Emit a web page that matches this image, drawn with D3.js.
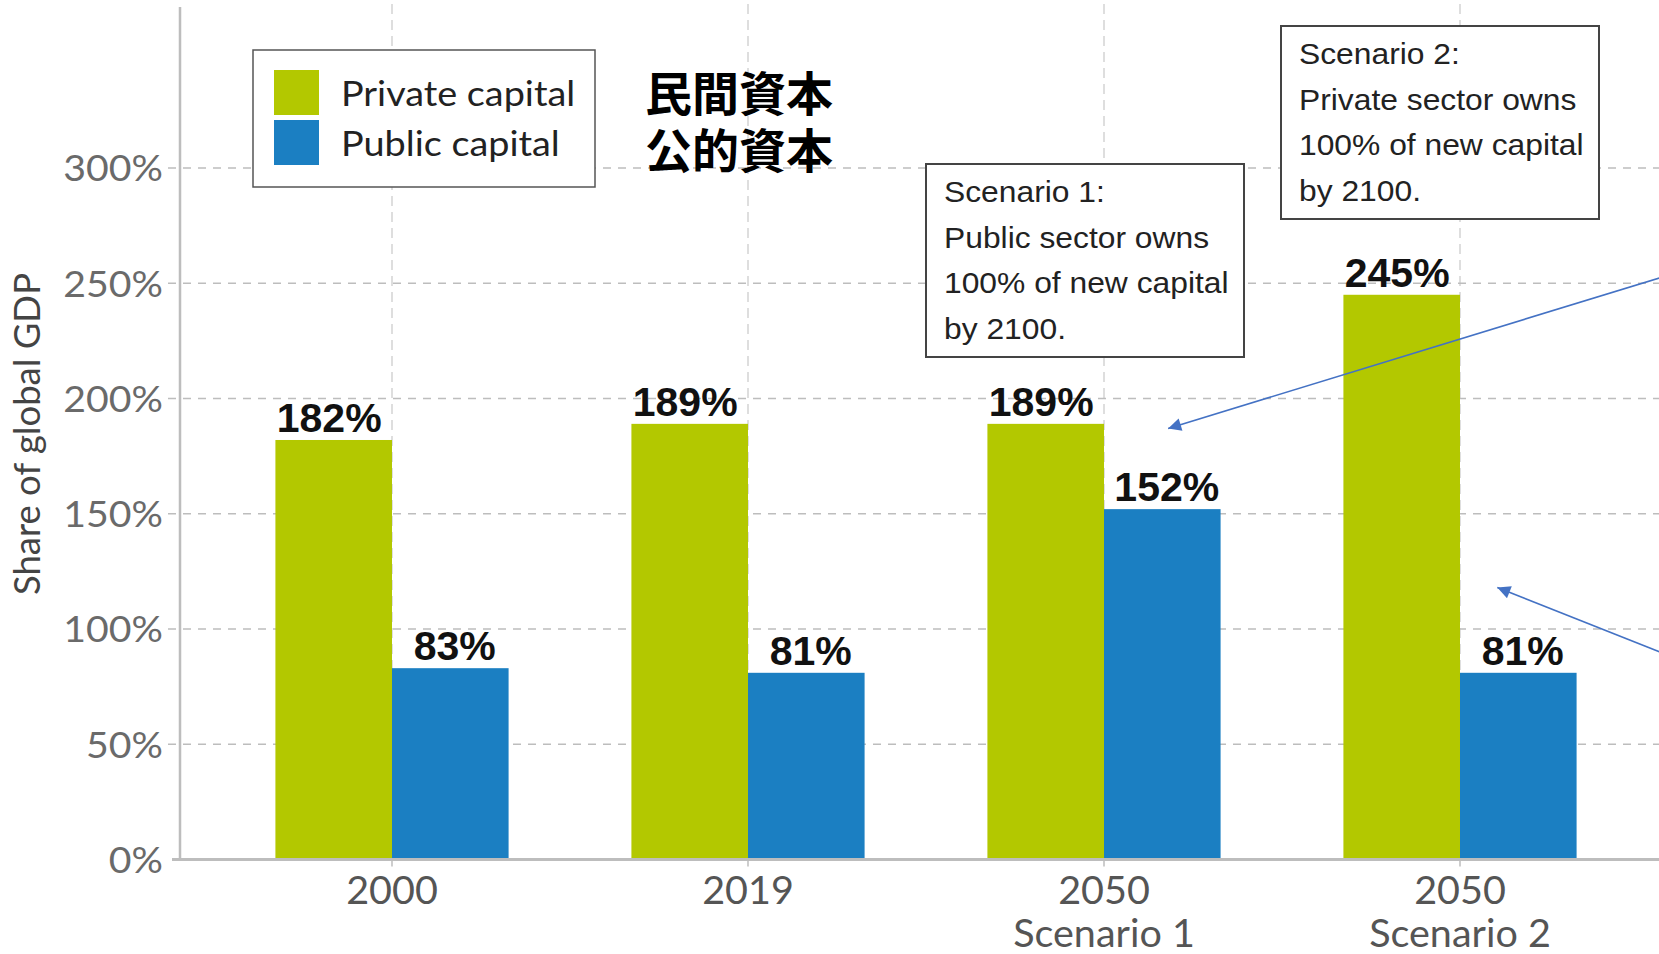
<!DOCTYPE html>
<html>
<head>
<meta charset="utf-8">
<script src="https://cdn.jsdelivr.net/npm/d3@7"></script>
<style>
  html, body { margin: 0; padding: 0; background: #fff; }
  svg { display: block; }
</style>
</head>
<body>
<svg id="chart" width="1659" height="954"></svg>
<script>
// Capital ownership as a share of global GDP
const categories = ["2000", "2019", "2050 Scenario 1", "2050 Scenario 2"];
const seriesNames = ["Private capital", "Public capital"];
const privateCapital = [182, 189, 189, 245];
const publicCapital = [83, 81, 152, 81];
const yTicks = [0, 50, 100, 150, 200, 250, 300];
const seriesColors = ["#b3c800", "#1b7fc2"];
const cjkLabels = ["民間資本", "公的資本"];
const scenario1Note = ["Scenario 1:", "Public sector owns", "100% of new capital", "by 2100."];
const scenario2Note = ["Scenario 2:", "Private sector owns", "100% of new capital", "by 2100."];

const svg = d3.select("#chart");
const W = 1659, H = 954;
const axisX = 180, baseY = 859.5, topY = 168;
const LATO = "Lato, 'Open Sans', sans-serif";
const ARIAL = "'Liberation Sans', Arial, sans-serif";

const x = d3.scaleBand()
  .domain(categories)
  .range([axisX, 1672])
  .paddingInner(0.345)
  .paddingOuter(0.268);

const xSub = d3.scaleBand()
  .domain(seriesNames)
  .range([0, x.bandwidth()])
  .padding(0);

const y = d3.scaleLinear().domain([0, 300]).range([baseY, topY]);

const rows = categories.map((c, i) => ({ cat: c, values: [privateCapital[i], publicCapital[i]] }));

// vertical dashed guides at each category centre
svg.append("g").selectAll("line")
  .data(categories)
  .join("line")
  .attr("x1", d => x(d) + x.bandwidth() / 2)
  .attr("x2", d => x(d) + x.bandwidth() / 2)
  .attr("y1", 4)
  .attr("y2", baseY)
  .attr("stroke", "#c9c9c9")
  .attr("stroke-width", 1.2)
  .attr("stroke-dasharray", "10,6");

// horizontal dashed gridlines
svg.append("g").selectAll("line")
  .data(yTicks.filter(t => t > 0))
  .join("line")
  .attr("x1", 168)
  .attr("x2", W)
  .attr("y1", d => y(d))
  .attr("y2", d => y(d))
  .attr("stroke", "#bdbdbd")
  .attr("stroke-width", 1.6)
  .attr("stroke-dasharray", "8,7");

// y axis tick labels (slightly widened lettering)
const yAxis = d3.axisLeft(y).tickValues(yTicks).tickFormat(d => d + "%").tickSize(0).tickPadding(0);
const gy = svg.append("g").attr("transform", `translate(${axisX},0)`).call(yAxis);
gy.select(".domain").remove();
gy.selectAll(".tick text")
  .attr("x", 0)
  .attr("transform", "translate(-17,0) scale(1.06,1)")
  .attr("font-family", LATO)
  .attr("font-size", 37)
  .attr("fill", "#6a6a6a")
  .attr("dy", "0.35em");

svg.append("line")
  .attr("x1", axisX).attr("x2", axisX)
  .attr("y1", 7).attr("y2", baseY)
  .attr("stroke", "#bdbdbd").attr("stroke-width", 2.5);

// y axis title
svg.append("text")
  .attr("transform", `translate(40,434) rotate(-90)`)
  .attr("text-anchor", "middle")
  .attr("font-family", LATO)
  .attr("font-size", 36.5)
  .attr("fill", "#444")
  .text("Share of global GDP");

// bars
const groups = svg.append("g").selectAll("g")
  .data(rows)
  .join("g")
  .attr("transform", d => `translate(${x(d.cat)},0)`);

groups.selectAll("rect")
  .data(d => d.values.map((v, j) => ({ key: seriesNames[j], v, j })))
  .join("rect")
  .attr("x", d => xSub(d.key))
  .attr("width", xSub.bandwidth())
  .attr("y", d => y(d.v))
  .attr("height", d => y(0) - y(d.v))
  .attr("fill", d => seriesColors[d.j]);

// value labels, nudged outward from the pair's centre
groups.selectAll("text.val")
  .data(d => d.values.map((v, j) => ({ key: seriesNames[j], v, j })))
  .join("text")
  .attr("class", "val")
  .attr("x", d => xSub(d.key) + xSub.bandwidth() / 2 + (d.j === 0 ? -4.5 : 4.5))
  .attr("y", d => y(d.v) - 8)
  .attr("text-anchor", "middle")
  .attr("font-family", ARIAL)
  .attr("font-weight", "bold")
  .attr("font-size", 41)
  .attr("fill", "#111")
  .text(d => d.v + "%");

// x axis baseline and ticks
svg.append("line")
  .attr("x1", 172).attr("x2", W)
  .attr("y1", baseY).attr("y2", baseY)
  .attr("stroke", "#bdbdbd").attr("stroke-width", 3);

const xAxis = d3.axisBottom(x).tickSize(6).tickFormat("");
const gx = svg.append("g").attr("transform", `translate(0,${baseY + 1})`).call(xAxis);
gx.select(".domain").remove();
gx.selectAll(".tick line").attr("stroke", "#bdbdbd").attr("stroke-width", 1.5);

gx.selectAll(".tick").each(function (d) {
  const parts = [d.slice(0, 4), d.slice(5)].filter(s => s.length);
  const t = d3.select(this).append("text")
    .attr("text-anchor", "middle")
    .attr("font-family", LATO)
    .attr("font-size", 38)
    .attr("transform", "scale(1.04,1)")
    .attr("fill", "#555");
  parts.forEach((p, i) => {
    t.append("tspan").attr("x", 0).attr("y", 43.5 + i * 43).text(p);
  });
});

// legend
const legend = svg.append("g");
legend.append("rect")
  .attr("x", 253).attr("y", 50).attr("width", 342).attr("height", 137)
  .attr("fill", "#fff").attr("stroke", "#555").attr("stroke-width", 1.5);
seriesNames.forEach((name, i) => {
  legend.append("rect")
    .attr("x", 274).attr("y", 70 + i * 50)
    .attr("width", 45).attr("height", 45)
    .attr("fill", seriesColors[i]);
  legend.append("text")
    .attr("transform", `translate(341,${106 + i * 50}) scale(1.08,1)`)
    .attr("font-family", LATO)
    .attr("font-size", 35)
    .attr("fill", "#222")
    .text(name);
});

// Japanese series names
svg.append("g").selectAll("text")
  .data(cjkLabels)
  .join("text")
  .attr("x", 645)
  .attr("y", (d, i) => 90 + i * 57.5)
  .attr("dominant-baseline", "central")
  .attr("font-family", "'Noto Sans CJK JP', 'Noto Sans CJK TC', sans-serif")
  .attr("font-weight", "bold")
  .attr("font-size", 47)
  .attr("fill", "#000")
  .text(d => d);

// scenario notes
function note(lines, bx, by, bw, bh) {
  const g = svg.append("g");
  g.append("rect")
    .attr("x", bx).attr("y", by).attr("width", bw).attr("height", bh)
    .attr("fill", "#fff").attr("stroke", "#444").attr("stroke-width", 2);
  g.selectAll("text")
    .data(lines)
    .join("text")
    .attr("transform", (d, i) => `translate(${bx + 18},${by + 38 + i * 45.7}) scale(1.06,1)`)
    .attr("font-family", ARIAL)
    .attr("font-size", 30)
    .attr("fill", "#222")
    .text(d => d);
}
note(scenario1Note, 926, 164, 318, 193);
note(scenario2Note, 1281, 26, 318, 193);

// pointer arrows
svg.append("defs").append("marker")
  .attr("id", "arrowhead")
  .attr("viewBox", "0 0 10 10")
  .attr("refX", 10).attr("refY", 5)
  .attr("markerWidth", 18).attr("markerHeight", 13)
  .attr("markerUnits", "userSpaceOnUse")
  .attr("orient", "auto")
  .append("path")
  .attr("d", "M0,0 L10,5 L0,10 Z")
  .attr("fill", "#4472c4");

const bw = x.bandwidth();
const arrows = [
  { from: [1700, 265.5], to: [x("2050 Scenario 1") + 0.775 * bw, y(187)] },
  { from: [1700, 668], to: [x("2050 Scenario 2") + 0.66 * bw, y(118)] }
];
svg.append("g").selectAll("line")
  .data(arrows)
  .join("line")
  .attr("x1", d => d.from[0]).attr("y1", d => d.from[1])
  .attr("x2", d => d.to[0]).attr("y2", d => d.to[1])
  .attr("stroke", "#4472c4")
  .attr("stroke-width", 1.6)
  .attr("marker-end", "url(#arrowhead)");
</script>
</body>
</html>
